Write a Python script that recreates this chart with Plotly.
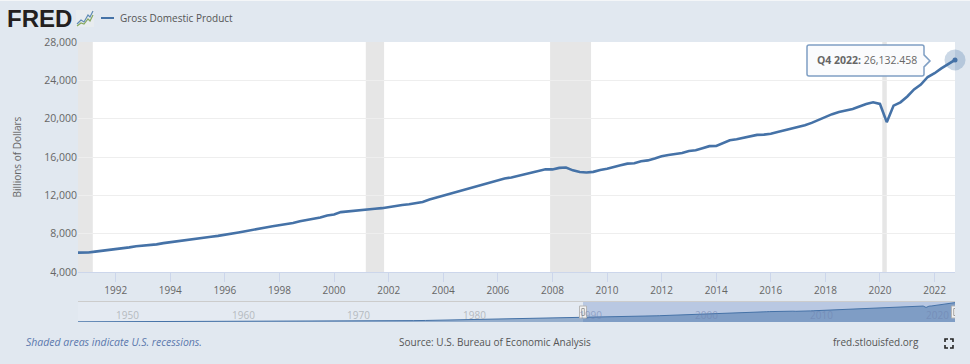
import plotly.graph_objects as go

W, H = 970, 364

# Quarterly GDP, billions of dollars, Q3 1990 to Q4 2022
gdp_values = [
    6015.1, 6004.7,
    6035.2, 6126.9, 6205.9, 6264.5,
    6363.1, 6470.8, 6566.6, 6680.8,
    6729.5, 6808.9, 6882.0, 7013.7,
    7115.7, 7246.9, 7331.1, 7455.3,
    7522.3, 7581.0, 7683.1, 7772.6,
    7868.5, 8032.8, 8131.4, 8259.8,
    8362.7, 8518.8, 8642.5, 8765.9,
    8866.5, 8969.7, 9121.1, 9293.9,
    9411.7, 9526.2, 9686.6, 9900.2,
    10002.2, 10247.7, 10318.2, 10435.7,
    10470.2, 10599.0, 10598.0, 10660.5,
    10783.5, 10887.5, 10984.0, 11061.4,
    11174.1, 11312.8, 11566.7, 11772.2,
    11923.4, 12112.8, 12305.3, 12527.2,
    12767.3, 12922.7, 13142.6, 13324.2,
    13599.2, 13753.4, 13870.2, 14039.6,
    14215.7, 14402.1, 14564.1, 14715.1,
    14706.5, 14865.7, 14898.9, 14608.2,
    14430.9, 14381.2, 14448.9, 14651.0,
    14764.6, 14980.2, 15141.6, 15309.5,
    15351.4, 15557.3, 15647.7, 15842.3,
    16068.8, 16207.1, 16319.5, 16420.4,
    16629.1, 16699.6, 16911.1, 17133.1,
    17144.3, 17462.7, 17743.2, 17852.5,
    17991.3, 18193.7, 18306.9, 18332.1,
    18425.3, 18611.6, 18775.5, 18968.0,
    19153.9, 19322.9, 19558.7, 19882.4,
    20155.5, 20470.2, 20687.3, 20819.3,
    21013.1, 21272.4, 21531.8, 21706.5,
    21538.0, 19636.7, 21362.4, 21704.7,
    22313.9, 23046.9, 23550.4, 24349.1,
    24740.5, 25248.5, 25723.9, 26132.458,
]
gdp_dates = []
_y, _m = 1990, 7
for _ in gdp_values:
    gdp_dates.append(f"{_y}-{_m:02d}-01")
    _m += 3
    if _m > 12:
        _y, _m = _y + 1, 1

# Overview strip history, start of each year, 1947 to 1990
history_years = list(range(1947, 1991))
history_values = [244, 266, 275, 300, 348, 367, 389, 391, 426, 450, 474, 482, 522, 543,
                  563, 605, 639, 686, 744, 815, 862, 943, 1019, 1074, 1165, 1279, 1425,
                  1545, 1684, 1873, 2082, 2352, 2627, 2857, 3207, 3344, 3634, 4037, 4339,
                  4580, 4855, 5236, 5642, 5873]
nav_dates = [f"{y}-01-01" for y in history_years] + gdp_dates
nav_values = history_values + gdp_values

recessions = [("1990-07-01", "1991-03-01"), ("2001-03-01", "2001-11-01"),
              ("2007-12-01", "2009-06-01"), ("2020-02-01", "2020-04-01")]
y_ticks = [4000, 8000, 12000, 16000, 20000, 24000, 28000]
x_ticks = [f"{y}-01-01" for y in range(1992, 2023, 2)]
x_labels = [str(y) for y in range(1992, 2023, 2)]
nav_label_years = [1950, 1960, 1970, 1980, 1990, 2000, 2010, 2020]

view_start = "1990-08-15"
view_end = "2022-10-01"
nav_start = "1947-01-01"

BG = "#e1e8f0"
BLUE = "#4572a7"
TXT = "#666666"
FONT = "Open Sans"


def px(x):
    return x / W


def py(y):
    return 1 - y / H


def note(text, x, y, size=10, color=TXT, anchor="left", **kw):
    return dict(text=text, xref="paper", yref="paper", x=px(x), y=py(y), showarrow=False,
                xanchor=anchor, yanchor="middle", font=dict(size=size, color=color, family=kw.pop("family", FONT)),
                **kw)


fig = go.Figure()
fig.add_trace(go.Scatter(x=gdp_dates, y=gdp_values, mode="lines", name="Gross Domestic Product",
                         line=dict(color=BLUE, width=2.6), hoverinfo="skip", showlegend=False))
fig.add_trace(go.Scatter(x=gdp_dates[-1:], y=gdp_values[-1:], mode="markers", cliponaxis=False,
                         marker=dict(size=21, color="rgba(69,114,167,0.28)"), hoverinfo="skip", showlegend=False))
fig.add_trace(go.Scatter(x=gdp_dates[-1:], y=gdp_values[-1:], mode="markers", cliponaxis=False,
                         marker=dict(size=5, color=BLUE), hoverinfo="skip", showlegend=False))
fig.add_trace(go.Scatter(x=nav_dates, y=nav_values, xaxis="x2", yaxis="y2", mode="lines", fill="tozeroy",
                         fillcolor="rgba(69,114,167,0.5)", line=dict(color=BLUE, width=1),
                         hoverinfo="skip", showlegend=False))

shapes = []
# Thin light strip along the top edge of the image
shapes.append(dict(type="rect", xref="paper", yref="paper", x0=0, x1=1, y0=py(1), y1=1,
                   fillcolor="#f4f6f8", line_width=0, layer="below"))
for a, b in recessions:
    shapes.append(dict(type="rect", xref="x", yref="y domain", x0=a, x1=b, y0=0, y1=1,
                       fillcolor="#e6e6e6", line_width=0, layer="below"))
# Overview strip background and selection
shapes.append(dict(type="rect", xref="x2", yref="y2 domain", x0=nav_start, x1=view_start, y0=0, y1=1,
                   fillcolor="#e4eaf2", line_width=0, layer="below"))
shapes.append(dict(type="rect", xref="x2", yref="y2 domain", x0=view_start, x1=view_end, y0=0, y1=1,
                   fillcolor="#b9c8e2", line_width=0, layer="below"))
# Overview strip top rule
shapes.append(dict(type="line", xref="paper", yref="paper", x0=px(78), x1=px(955), y0=py(301.5), y1=py(301.5),
                   line=dict(color="#cccccc", width=1)))
# Handles
for d in (view_start, view_end):
    shapes.append(dict(type="rect", xref="x2", yref="paper", xsizemode="pixel", xanchor=d, x0=-3.5, x1=3.5,
                       y0=py(318), y1=py(306), fillcolor="#f2f2f2", line=dict(color="#b5b5b5", width=1), layer="above"))
    shapes.append(dict(type="rect", xref="x2", yref="paper", xsizemode="pixel", xanchor=d, x0=-1.2, x1=1.2,
                       y0=py(315.5), y1=py(308.5), fillcolor="#ffffff", line=dict(color="#999999", width=1), layer="above"))
# Tooltip, anchored to the last data point
anchor = dict(xref="x", yref="y", xsizemode="pixel", ysizemode="pixel",
              xanchor=gdp_dates[-1], yanchor=gdp_values[-1], layer="above")
shapes.append(dict(type="path", **anchor,
                   path="M -146,15 L -33,15 Q -31,15 -31,13 L -31,5 L -25,-1 L -31,-7 L -31,-14 "
                        "Q -31,-16 -33,-16 L -146,-16 Q -148,-16 -148,-14 L -148,13 Q -148,15 -146,15 Z",
                   fillcolor="rgba(250,251,253,0.96)", line=dict(color="#7f9fc4", width=1.5)))
# Legend key
shapes.append(dict(type="line", xref="paper", yref="paper", x0=px(101), x1=px(114), y0=py(18), y1=py(18),
                   line=dict(color=BLUE, width=2)))
# Logo glyph
shapes.append(dict(type="rect", xref="paper", yref="paper", x0=px(76), x1=px(94), y0=py(27), y1=py(10),
                   fillcolor="#e8ecef", line_width=0))
shapes.append(dict(type="path", xref="paper", yref="paper",
                   path=f"M {px(77)},{py(24)} L {px(81)},{py(20)} L {px(84)},{py(22)} L {px(88)},{py(15)} L {px(90)},{py(17)} L {px(93)},{py(11)}",
                   line=dict(color="#5f8ab3", width=1.2)))
shapes.append(dict(type="path", xref="paper", yref="paper",
                   path=f"M {px(77)},{py(26)} L {px(81)},{py(23)} L {px(84)},{py(24)} L {px(88)},{py(19)} L {px(90)},{py(21)} L {px(93)},{py(15)}",
                   line=dict(color="#86a85f", width=1.2)))
# Fullscreen glyph
for cx, cy, dx, dy in [(945, 339, 1, 1), (953, 339, -1, 1), (945, 348, 1, -1), (953, 348, -1, -1)]:
    shapes.append(dict(type="path", xref="paper", yref="paper",
                       path=f"M {px(cx + 3 * dx)},{py(cy)} L {px(cx)},{py(cy)} L {px(cx)},{py(cy + 3 * dy)}",
                       line=dict(color="#222222", width=1.6)))

annotations = [
    note("<b>FRED</b>", 5, 18, size=24, color="#231f20", family="Liberation Sans"),
    note("Gross Domestic Product", 118, 18, size=10, color="#555555"),
    note("<i>Shaded areas indicate U.S. recessions.</i>", 24, 342, size=10.5, color="#5b78ad"),
    note("Source: U.S. Bureau of Economic Analysis", 495, 342, size=10, color="#555555", anchor="center"),
    note("fred.stlouisfed.org", 876, 342, size=10, color="#555555", anchor="center"),
    dict(text="<b>Q4 2022:</b> 26,132.458", xref="x", yref="y", x=gdp_dates[-1], y=gdp_values[-1],
         xshift=-88, yshift=0, showarrow=False, xanchor="center", yanchor="middle",
         font=dict(size=10.5, color="#666666", family=FONT)),
]
for yr in nav_label_years:
    annotations.append(dict(text=str(yr), xref="x2", yref="paper", x=f"{yr}-01-01", y=py(315), xshift=1,
                            showarrow=False, xanchor="left", yanchor="middle",
                            font=dict(size=10, family=FONT,
                                      color="rgba(110,130,175,0.55)" if yr >= 1990 else "#b5bac0")))

fig.update_layout(
    width=W, height=H, autosize=False,
    margin=dict(l=0, r=0, t=0, b=0, pad=0, autoexpand=False),
    paper_bgcolor=BG, plot_bgcolor="#ffffff",
    font=dict(family=FONT, size=10, color=TXT),
    showlegend=False,
    shapes=shapes, annotations=annotations,
    xaxis=dict(domain=[px(78), px(955)], range=[view_start, view_end], type="date", tickmode="array",
               tickvals=x_ticks, ticktext=x_labels, ticks="outside", ticklen=9, tickcolor="#ccd6eb",
               showline=True, linecolor="#ccd6eb", showgrid=False, zeroline=False, anchor="y",
               tickfont=dict(size=10, color=TXT)),
    yaxis=dict(domain=[py(272), py(42)], range=[4000, 28000], tickmode="array", tickvals=y_ticks,
               tickformat=",", gridcolor="#eeeeee", zeroline=False, showline=False, ticks="",
               anchor="x", tickfont=dict(size=10.5, color=TXT),
               title=dict(text="Billions of Dollars", font=dict(size=10, color=TXT), standoff=20)),
    xaxis2=dict(domain=[px(78), px(955)], range=[nav_start, view_end], type="date", showticklabels=False,
                showgrid=False, zeroline=False, ticks="", anchor="y2"),
    yaxis2=dict(domain=[py(322), py(302)], range=[0, 27000], showticklabels=False, showgrid=False,
                zeroline=False, ticks="", anchor="x2"),
)

fig.write_html("out.html", config=dict(displayModeBar=False),
               post_script="document.body.style.margin='0';document.body.style.background='%s';" % BG)
